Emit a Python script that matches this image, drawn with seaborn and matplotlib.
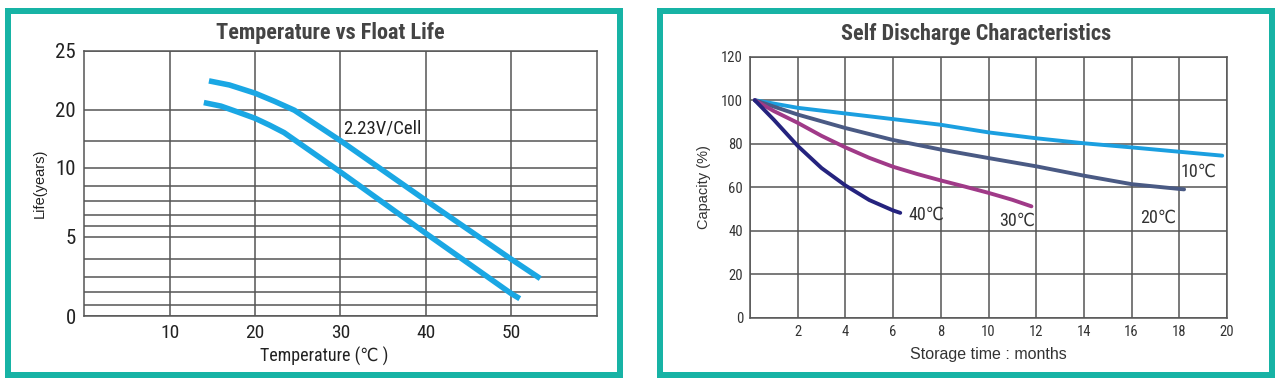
import numpy as np
import pandas as pd
import matplotlib
matplotlib.use("Agg")
import matplotlib.pyplot as plt
from matplotlib.patches import Rectangle
from matplotlib import font_manager
from matplotlib.font_manager import FontProperties
import seaborn as sns

# ---------------- data ----------------
# Temperature vs float life (two boundary curves of the 2.23V/Cell band)
upper_temp = [14.6, 17.0, 20.0, 22.3, 24.6, 30.0, 40.0, 50.0, 53.4]
upper_life = [22.45, 22.1, 21.4, 20.7, 19.9, 15.0, 8.05, 4.0, 2.9]
lower_temp = [14.0, 16.0, 18.0, 20.0, 21.7, 23.4, 30.0, 40.0, 50.0, 51.0]
lower_life = [20.6, 20.3, 19.6, 18.6, 17.5, 16.3, 9.75, 5.3, 1.9, 1.5]
temp_ticks = [10, 20, 30, 40, 50]
life_ticks = [0, 5, 10, 20, 25]
life_minor = [1, 2, 3, 4, 6, 7, 8, 9, 15]

# Self discharge characteristics
months_10 = [0.2, 2, 4, 6, 8, 10, 12, 14, 16, 18, 19.8]
cap_10 = [100, 96.5, 93.9, 91.3, 88.7, 85.2, 82.5, 80.2, 78.3, 76.3, 74.5]
months_20 = [0.2, 2, 4, 6, 8, 10, 12, 14, 16, 18, 18.2]
cap_20 = [100, 93.4, 87.2, 81.7, 77.3, 73.4, 69.6, 65.3, 61.4, 59.2, 59.0]
months_30 = [0.2, 1, 2, 3, 4, 5, 6, 7, 8, 9, 10, 11, 11.8]
cap_30 = [100, 95.0, 89.6, 83.6, 78.3, 73.5, 69.4, 66.1, 63.1, 60.3, 57.4, 54.2, 51.2]
months_40 = [0.2, 1, 2, 3, 4, 5, 6, 6.3]
cap_40 = [100, 91.0, 79.0, 68.8, 60.8, 54.1, 49.3, 48.2]
series_names = ["10℃", "20℃", "30℃", "40℃"]
month_ticks = [2, 4, 6, 8, 10, 12, 14, 16, 18, 20]
cap_ticks = [0, 20, 40, 60, 80, 100, 120]

# non-uniform life axis of the original chart (value -> relative height)
life_scale_vals = [0, 1, 2, 3, 4, 5, 6, 7, 8, 9, 10, 15, 20, 25]
life_scale_pos = [0, 11, 23.7, 39, 56.8, 79.5, 90, 101.5, 114.8, 130.5, 148.5, 175.3, 206.4, 265]

# ---------------- style ----------------
sns.set_theme(style="white")
plt.rcParams["font.family"] = ["Liberation Sans", "DejaVu Sans"]

# look for a condensed sans face; fall back to Liberation Sans
def find_narrow(bold=False):
    cands = []
    for f in font_manager.fontManager.ttflist:
        nm = f.name.lower()
        is_narrow = ("narrow" in nm or "condensed" in nm or
                     str(f.stretch) in ("condensed", "semi-condensed", "extra-condensed"))
        if not is_narrow or "mono" in nm:
            continue
        if f.style != "normal":
            continue
        w = f.weight if isinstance(f.weight, int) else (700 if "bold" in str(f.weight) else 400)
        if bold and w < 600:
            continue
        if not bold and (w >= 600 or w < 400):
            continue
        cands.append(f)
    if not cands:
        return None
    pref = ["liberation sans narrow", "roboto condensed", "dejavu sans", "open sans", "noto sans"]
    cands.sort(key=lambda f: next((i for i, p in enumerate(pref) if p in f.name.lower()), 99))
    return cands[0]

nar_reg = find_narrow(False)
nar_bold = find_narrow(True)

def NP(size, bold=False):
    f = nar_bold if bold else nar_reg
    if f is not None:
        return FontProperties(family=[f.name, "DejaVu Sans"], size=size,
                              weight=f.weight, stretch=f.stretch)
    return FontProperties(family=["Liberation Sans", "DejaVu Sans"], size=size,
                          weight="bold" if bold else "normal")

REG = ["Liberation Sans", "DejaVu Sans"]

TEAL = "#17b3a5"
GRID = "#555555"
TXT = "#222222"
BLUE = "#1aa7e4"
colors = {"10℃": "#1b9fe0", "20℃": "#4a5a84", "30℃": "#a03a88", "40℃": "#25237e"}

W, H = 1280, 392
fig = plt.figure(figsize=(W / 100, H / 100), dpi=100)
fig.patch.set_facecolor("white")

def fx(px):
    return px / W

def fy(py):
    return 1 - py / H

# teal frames
for (x0, y0, x1, y1) in [(5, 8, 623, 377.5), (657, 8, 1275, 377.5)]:
    t = 6
    fig.patches.append(Rectangle((fx(x0 + t / 2), fy(y1 - t / 2)),
                                 (x1 - x0 - t) / W, (y1 - y0 - t) / H,
                                 transform=fig.transFigure, fill=False,
                                 edgecolor=TEAL, linewidth=t * 0.72, zorder=0))

# ---------------- left chart ----------------
axL = fig.add_axes([fx(84.3), fy(316), (596.6 - 84.3) / W, (316 - 51) / H])
fwd = lambda v: np.interp(v, life_scale_vals, life_scale_pos)
inv = lambda p: np.interp(p, life_scale_pos, life_scale_vals)
axL.set_yscale("function", functions=(fwd, inv))

dfU = pd.DataFrame({"t": upper_temp, "life": upper_life})
dfL = pd.DataFrame({"t": lower_temp, "life": lower_life})
for d in (dfU, dfL):
    sns.lineplot(data=d, x="t", y="life", ax=axL, color=BLUE, linewidth=4.0,
                 sort=False, estimator=None, solid_capstyle="butt", zorder=3)

axL.set_xlim(0, 60)
axL.set_ylim(0, 25)
axL.set_xticks(temp_ticks)
axL.set_xticklabels([str(v) for v in temp_ticks], fontproperties=NP(14), color=TXT)
axL.set_yticks(life_ticks)
axL.set_yticklabels([str(v) for v in life_ticks], fontproperties=NP(15), color=TXT)
axL.set_yticks(life_minor, minor=True)
axL.tick_params(axis="both", which="both", length=0, pad=6)
axL.tick_params(axis="y", which="minor", labelleft=False)
axL.grid(True, which="both", color=GRID, linewidth=1.1)
for s in axL.spines.values():
    s.set_color(GRID)
    s.set_linewidth(1.1)
axL.set_xlabel("Temperature (℃ )", fontproperties=NP(13), color=TXT, labelpad=5)
axL.xaxis.set_label_coords(0.468, -0.115)
axL.set_ylabel("Life(years)", fontfamily=REG, fontsize=10.5, color=TXT, labelpad=6)
axL.text(30.3, 17.0, "2.23V/Cell", fontproperties=NP(13.5), color=TXT,
         ha="left", va="center", zorder=4,
         bbox=dict(facecolor="white", edgecolor="none", pad=0.5))
fig.text(fx(330), fy(33), "Temperature vs Float Life", ha="center", va="center",
         fontproperties=NP(16, bold=True), color="#444444")

# ---------------- right chart ----------------
axR = fig.add_axes([fx(750), fy(317.7), (1227 - 750) / W, (317.7 - 56.7) / H])
for name, mx, cy in zip(series_names, [months_10, months_20, months_30, months_40],
                        [cap_10, cap_20, cap_30, cap_40]):
    d = pd.DataFrame({"m": mx, "c": cy})
    sns.lineplot(data=d, x="m", y="c", ax=axR, color=colors[name], linewidth=2.8,
                 sort=False, estimator=None, zorder=3)
axR.set_xlim(0, 20)
axR.set_ylim(0, 120)
axR.set_xticks([0] + month_ticks)
axR.set_xticklabels([""] + [str(v) for v in month_ticks], fontproperties=NP(10.5), color="#333333")
axR.set_yticks(cap_ticks)
axR.set_yticklabels([str(v) for v in cap_ticks], fontproperties=NP(10.5), color="#333333")
axR.tick_params(axis="both", length=0, pad=5)
axR.grid(True, color=GRID, linewidth=1.1)
for s in axR.spines.values():
    s.set_color(GRID)
    s.set_linewidth(1.1)
axR.set_xlabel("Storage time : months", fontfamily=REG, fontsize=11.5, color="#333333", labelpad=6)
axR.set_ylabel("Capacity (%)", fontfamily=REG, fontsize=10.5, color="#333333", labelpad=7)

label_pos = {"10℃": (18.8, 67.0), "20℃": (17.1, 45.8), "30℃": (11.2, 44.5), "40℃": (7.4, 47.2)}
for name in series_names:
    x, y = label_pos[name]
    axR.text(x, y, name, fontproperties=NP(13),
             color="#333333", ha="center", va="center", zorder=4)
fig.text(fx(976), fy(34), "Self Discharge Characteristics", ha="center", va="center",
         fontproperties=NP(16, bold=True), color="#444444")

fig.savefig("out.png", dpi=100, facecolor="white")
